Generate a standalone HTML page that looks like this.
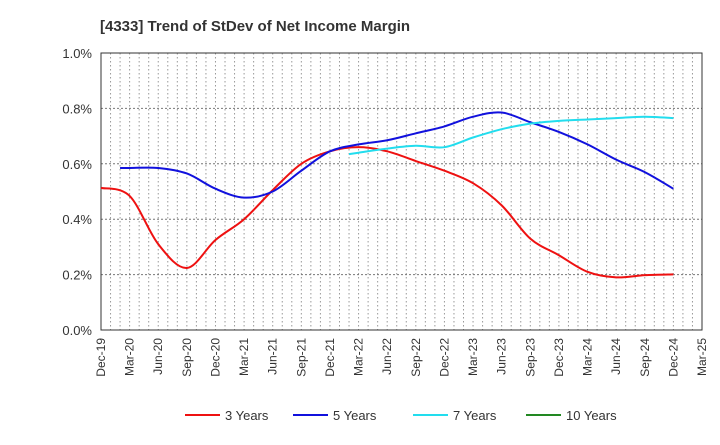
<!DOCTYPE html>
<html><head><meta charset="utf-8"><style>
body{margin:0;background:#fff;font-family:"Liberation Sans",sans-serif}
svg text{font-family:"Liberation Sans",sans-serif}
</style></head><body>
<svg id="c" width="720" height="440">
<text x="100" y="31" font-size="15" font-weight="bold" fill="#333">[4333]  Trend of StDev of Net Income Margin</text>
<g id="grid"></g><g id="axes"></g><g id="series"></g><g id="legend"></g>
</svg>
<script>
const xLabels=["Dec-19","Mar-20","Jun-20","Sep-20","Dec-20","Mar-21","Jun-21","Sep-21","Dec-21","Mar-22","Jun-22","Sep-22","Dec-22","Mar-23","Jun-23","Sep-23","Dec-23","Mar-24","Jun-24","Sep-24","Dec-24","Mar-25"];
const yTicks=[0,0.2,0.4,0.6,0.8,1.0];
const m3=[0,3,6,9,12,15,18,21,24,27,30,33,36,39,42,45,48,51,54,57,60];
const v3=[0.513,0.484,0.31,0.224,0.325,0.40,0.505,0.60,0.645,0.66,0.645,0.61,0.575,0.53,0.45,0.33,0.27,0.21,0.19,0.198,0.201];
const m5=[2,3,6,9,12,15,18,21,24,27,30,33,36,39,42,45,48,51,54,57,60];
const v5=[0.585,0.585,0.585,0.565,0.51,0.478,0.50,0.575,0.645,0.67,0.685,0.71,0.735,0.77,0.785,0.75,0.715,0.67,0.615,0.57,0.51];
const m7=[26,27,30,33,36,39,42,45,48,51,54,57,60];
const v7=[0.635,0.64,0.655,0.665,0.66,0.695,0.725,0.745,0.755,0.76,0.765,0.77,0.765];
const L=101,R=702,T=53,B=330,NS="http://www.w3.org/2000/svg";
const xs=m=>L+m*(R-L)/63, ys=v=>B-v*(B-T)/1.0;
function mk(tag,a,p){const e=document.createElementNS(NS,tag);for(const k in a)e.setAttribute(k,a[k]);p.appendChild(e);return e;}
const g=document.getElementById('grid'),ax=document.getElementById('axes'),sg=document.getElementById('series'),lg=document.getElementById('legend');
for(let m=1;m<63;m++){const l=mk('line',{x1:xs(m),x2:xs(m),y1:T,y2:B,stroke:'#999','stroke-dasharray':'1.5,2.5','stroke-width':1},g);

}
yTicks.forEach(v=>{if(v>0){const l=mk('line',{x1:L,x2:R,y1:ys(v),y2:ys(v),stroke:'#777','stroke-dasharray':'2,2','stroke-width':1},g);

}
const t=mk('text',{x:L-9,y:ys(v)+5,'text-anchor':'end','font-size':13,fill:'#333'},ax);t.textContent=v.toFixed(1)+'%';

});
const fr=mk('rect',{x:L,y:T,width:R-L,height:B-T,fill:'none',stroke:'#333','stroke-width':1},ax);


xLabels.forEach((s,i)=>{const x=xs(i*3);const t=mk('text',{x:x+4,y:B+8,'text-anchor':'end','font-size':12,fill:'#333',transform:`rotate(-90 ${x+4} ${B+8})`},ax);t.textContent=s;

});
function path(ms,vs){const p=ms.map((m,i)=>[xs(m),ys(vs[i])]);let d=`M${p[0][0]},${p[0][1]}`;
for(let i=0;i<p.length-1;i++){const p0=p[Math.max(0,i-1)],p1=p[i],p2=p[i+1],p3=p[Math.min(p.length-1,i+2)];
d+=` C${p1[0]+(p2[0]-p0[0])/6},${p1[1]+(p2[1]-p0[1])/6} ${p2[0]-(p3[0]-p1[0])/6},${p2[1]-(p3[1]-p1[1])/6} ${p2[0]},${p2[1]}`;}return d;}
[[m3,v3,'#ee1111','series-3-years'],[m5,v5,'#1111dd','series-5-years'],[m7,v7,'#22ddee','series-7-years']].forEach(([m,v,c,n])=>{
const p=mk('path',{d:path(m,v),fill:'none',stroke:c,'stroke-width':2},sg);

});
[['3 Years','#ee1111',185],['5 Years','#1111dd',293],['7 Years','#22ddee',413],['10 Years','#228822',526]].forEach(([s,c,x])=>{
const e=mk('g',{},lg);


mk('line',{x1:x,x2:x+35,y1:415,y2:415,stroke:c,'stroke-width':2},e);
const t=mk('text',{x:x+40,y:420,'font-size':13,fill:'#333'},e);t.textContent=s;});
</script>
</body></html>
